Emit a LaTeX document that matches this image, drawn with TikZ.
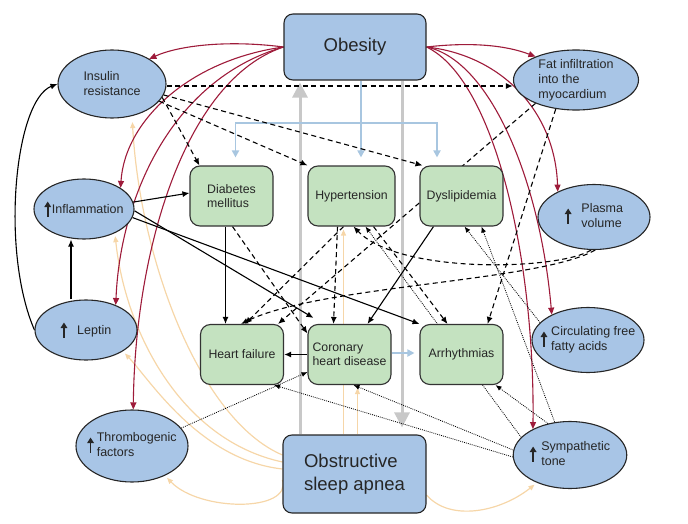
\documentclass[tikz,border=0pt]{standalone}
\usepackage{fontspec}
\setmainfont{Liberation Sans}
\usetikzlibrary{shapes.geometric,arrows.meta,backgrounds}

\definecolor{nodeblue}{RGB}{168,197,230}
\definecolor{nodegreen}{RGB}{196,226,192}
\definecolor{linkred}{RGB}{158,27,58}
\definecolor{peach}{RGB}{246,214,168}
\definecolor{paleblue}{RGB}{168,198,224}
\definecolor{palegray}{RGB}{200,200,200}

\newcommand\uparr{\tikz[baseline=1.5pt]\draw[line width=1.7pt,-{Triangle[length=5.5pt,width=6.5pt]}] (0,-2pt) -- (0,13pt);}

\tikzset{
  blob/.style={ellipse,draw=black!85,line width=1.1pt,fill=nodeblue,inner sep=0pt,align=left,text=black!85,font=\fontsize{12.5}{15}\selectfont},
  bluebox/.style={rectangle,rounded corners=9pt,draw=black!85,line width=1.1pt,fill=nodeblue,align=left,text=black!85,font=\fontsize{18.5}{23}\selectfont},
  greenbox/.style={rectangle,rounded corners=10pt,draw=black!80,line width=1.1pt,fill=nodegreen,minimum width=83pt,minimum height=60pt,inner sep=2pt,align=left,text=black!85,font=\fontsize{12.3}{14.5}\selectfont},
  solidarr/.style={line width=1.1pt,-{Latex[length=7pt,width=6pt]}},
  dasharr/.style={line width=1.1pt,dash pattern=on 5pt off 3.5pt,-{Latex[length=7pt,width=6pt]}},
  dotarr/.style={line width=0.8pt,dash pattern=on 0.9pt off 1.1pt,-{Latex[length=6pt,width=5pt]}},
  redarr/.style={linkred,line width=1.1pt,-{Triangle[length=7pt,width=6pt]}},
  peacharr/.style={peach,line width=1.2pt,shorten >=3pt,-{Triangle[length=6pt,width=5pt]}},
  palearr/.style={paleblue,line width=1.8pt,shorten >=8pt,-{Triangle[length=7pt,width=7pt]}},
  grayarr/.style={palegray,line width=3pt,-{Triangle[length=15pt,width=15pt]}}
}

\begin{document}
\begin{tikzpicture}[x=1pt,y=-1pt]
\useasboundingbox (0,0) rectangle (688,524);

\node[bluebox,minimum width=142pt,minimum height=66pt] (obesity) at (355,47) {Obesity};
\node[bluebox,minimum width=143pt,minimum height=78pt] (osa) at (354.5,474) {Obstructive\\sleep apnea};

\node[blob,minimum width=108pt,minimum height=68pt] (insulin) at (112,84) {Insulin\\resistance};
\node[blob,minimum width=125pt,minimum height=60pt,inner ysep=-1pt] (fat) at (576,80) {Fat infiltration\\into the\\myocardium};
\node[blob,minimum width=100pt,minimum height=60pt,inner xsep=-5pt] (inflam) at (84,209) {\uparr\hspace{1pt}Inflammation};
\node[blob,minimum width=112pt,minimum height=65pt] (plasma) at (594,217) {\uparr\hspace{10pt}\begin{tabular}{@{}l@{}}Plasma\\volume\end{tabular}};
\node[blob,minimum width=102pt,minimum height=60pt] (leptin) at (86,330) {\uparr\hspace{10pt}Leptin};
\node[blob,minimum width=112pt,minimum height=65pt,inner xsep=-10pt] (ffa) at (588,340) {\uparr\hspace{4pt}\begin{tabular}{@{}l@{}}Circulating free\\fatty acids\end{tabular}};
\node[blob,minimum width=112pt,minimum height=72pt,inner xsep=-7pt] (thromb) at (132,446) {\uparr\hspace{3pt}\begin{tabular}{@{}l@{}}Thrombogenic\\factors\end{tabular}};
\node[blob,minimum width=113pt,minimum height=67pt] (symp) at (570,455) {\uparr\hspace{5pt}\begin{tabular}{@{}l@{}}Sympathetic\\tone\end{tabular}};

\node[greenbox] (diab) at (231.5,196) {Diabetes\\mellitus};
\node[greenbox,minimum width=87pt] (hyper) at (351.5,196) {Hypertension};
\node[greenbox] (dys) at (461.5,196) {Dyslipidemia};
\node[greenbox] (hf) at (242,354.5) {Heart failure};
\node[greenbox] (chd) at (349.5,354.5) {Coronary\\heart disease};
\node[greenbox] (arrh) at (461.5,354.5) {Arrhythmias};

\begin{scope}[on background layer]
\draw[peacharr,shorten >=6pt] ([yshift=19pt]osa.west) .. controls (200,420) and (140,260) .. (insulin.-58);
\draw[peacharr] ([yshift=12pt]osa.west) .. controls (180,440) and (125,330) .. (inflam.-38);
\draw[peacharr] ([yshift=5pt]osa.west) .. controls (200,460) and (150,380) .. (leptin.-30);
\draw[peacharr] ([yshift=-6pt]osa.west) .. controls (292,512) and (200,512) .. (thromb.-42);
\draw[peacharr] ([xshift=-11pt]osa.north) -- ([xshift=-11pt]osa.north |- hyper.south);
\draw[peacharr] ([xshift=3pt]osa.north) -- ([xshift=3pt]osa.north |- chd.south);
\draw[peacharr] ([yshift=-21pt]osa.east) .. controls (450,522) and (500,512) .. (symp.-140);

\draw[grayarr,shorten >=2pt] ([xshift=-54.5pt]osa.north) -- ([xshift=-54.5pt]osa.north |- obesity.south);
\draw[grayarr,shorten >=7pt] ([xshift=47pt]obesity.south) -- ([xshift=47pt]obesity.south |- osa.north);

\coordinate (split) at (361,123);
\draw[paleblue,line width=1.8pt] ([xshift=6pt]obesity.south) -- (split);
\draw[palearr] (split) -| ([xshift=4pt]diab.north);
\draw[palearr] (split) -- (split |- hyper.north);
\draw[palearr] (split) -| ([xshift=-24.5pt]dys.north);
\draw[palearr,shorten >=5pt] ([yshift=1.5pt]chd.east) -- ([yshift=1.5pt]arrh.west);

\draw[redarr] (obesity.west) .. controls (230,40) and (180,45) .. (insulin.34);
\draw[redarr] (obesity.west) .. controls (190,60) and (125,120) .. (inflam.30);
\draw[redarr] (obesity.west) .. controls (170,80) and (120,200) .. (leptin.40);
\draw[redarr] (obesity.west) .. controls (185,80) and (135,250) .. (thromb.88);
\draw[redarr] (obesity.east) .. controls (470,42) and (505,45) .. (fat.150);
\draw[redarr] (obesity.east) .. controls (500,55) and (555,110) .. (plasma.145);
\draw[redarr] (obesity.east) .. controls (490,60) and (540,180) .. (ffa.145);
\draw[redarr] (obesity.east) .. controls (495,80) and (535,260) .. (symp.145);

\draw[solidarr] (inflam.8) -- ([yshift=3pt]diab.west);
\draw[solidarr] (inflam.-2) -- ([xshift=6pt,yshift=6pt]chd.north west);
\draw[solidarr] (inflam.-10) -- (arrh.north west);
\draw[solidarr] ([xshift=-6pt]diab.south) -- ([xshift=-6pt]diab.south |- hf.north);
\draw[solidarr] ([xshift=-28pt]dys.south) -- ([xshift=18pt]chd.north);
\draw[solidarr,line width=1.8pt] (chd.west) -- (hf.east);
\draw[solidarr] ([xshift=-15pt]leptin.north) -- ([xshift=-15pt]leptin.north |- inflam.south);
\draw[solidarr] (leptin.west) .. controls (0,250) and (15,100) .. (insulin.west);

\draw[dasharr,line width=1.5pt] ([yshift=-2pt]insulin.east) -- ([yshift=-2pt]insulin.east -| fat.west);
\draw[dasharr] (insulin.-15) -- ([xshift=10pt]diab.north west);
\draw[dasharr] (insulin.-20) -- (hyper.north west);
\draw[dasharr] (insulin.-12) -- ([xshift=3pt]dys.north west);
\draw[dasharr] (fat.-150) -- ([xshift=-6pt]hf.north east);
\draw[dasharr] (fat.-125) -- ([xshift=-16pt]arrh.north east);
\draw[dasharr] (plasma.-95) .. controls (560,270) and (400,275) .. ([xshift=2pt]hyper.south);
\draw[dasharr] (plasma.-88) .. controls (540,282) and (320,285) .. ([xshift=-1pt]hf.north);
\draw[dasharr] ([xshift=-8pt]hyper.south) -- ([xshift=3pt]hf.north);
\draw[dasharr] ([xshift=-14pt]hyper.south) -- ([xshift=-16pt]chd.north);
\draw[dasharr] ([xshift=22pt]hyper.south) -- ([xshift=-14pt]arrh.north);
\draw[dasharr] ([xshift=1pt]diab.south) -- ([yshift=21pt]chd.west);

\draw[dotarr] (symp.182) -- ([xshift=-10pt]hf.south east);
\draw[dotarr] (symp.175) -- ([xshift=4pt]chd.south);
\draw[dotarr] (symp.125) -- ([xshift=-8pt]arrh.south east);
\draw[dotarr] (symp.160) -- ([xshift=14pt]hyper.south);
\draw[dotarr] (symp.115) -- ([xshift=20pt]dys.south);
\draw[dotarr] (ffa.160) -- ([xshift=3pt]dys.south);
\draw[dotarr] (thromb.20) -- ([yshift=13pt]chd.south west);
\end{scope}
\end{tikzpicture}
\end{document}
